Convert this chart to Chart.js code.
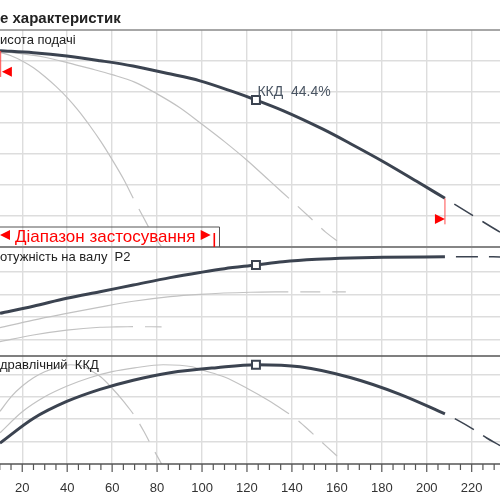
<!DOCTYPE html>
<html>
<head>
<meta charset="utf-8">
<script src="https://cdn.jsdelivr.net/npm/chart.js@4.4.1/dist/chart.umd.min.js"></script>
<style>
  html, body { margin: 0; padding: 0; background: #fff; }
  #chart { display: block; }
</style>
</head>
<body>
<canvas id="chart" width="500" height="500"></canvas>
<script>
// ========================
// DATA
// ========================
const xGrid = [20, 40, 60, 80, 100, 120, 140, 160, 180, 200, 220];
const hGrid = [5, 10, 15, 20, 25, 30];
const pGrid = [1, 2, 3, 4];
const eGrid = [10, 20, 30, 40];

// head, top panel
const headQ = [10.1, 24.9, 39.8, 54.6, 69.3, 84.3, 99.1, 113.8, 124.0, 136.0, 153.8, 165.9, 180.5, 195.5, 208.1];
const head = [31.66, 31.34, 30.81, 30.05, 29.19, 28.02, 26.8, 25.05, 23.71, 22.0, 19.0, 16.7, 13.8, 10.6, 7.85];
const headDashQ = [208.1, 221.8, 232.6, 246];
const headDash = [7.85, 4.79, 2.42, 0];
const head2Q = [10.1, 20, 30, 40, 50, 60, 70, 80, 90, 100, 110, 120, 130, 138.7];
const head2 = [31.55, 31.15, 30.6, 29.75, 28.8, 27.8, 26.6, 24.7, 22.5, 19.8, 17.0, 14.0, 10.7, 7.85];
const head2DashQ = [138.7, 147.9, 155, 164];
const head2Dash = [7.85, 4.8, 2.4, 0];
const head1Q = [10.1, 15, 20, 25, 30, 35, 40, 45, 50, 55, 60, 65, 69.4];
const head1 = [31.4, 30.85, 30.0, 28.9, 27.5, 25.9, 24.1, 22.0, 19.6, 17.0, 14.1, 11.0, 7.85];
const head1DashQ = [69.4, 73.9, 77.5, 82];
const head1Dash = [7.85, 4.8, 2.4, 0];

// shaft power P2, middle panel
const powQ = [10.1, 24.9, 39.8, 54.6, 69.4, 85.8, 99.1, 110, 124.0, 136.0, 151.0, 165.9, 180.7, 208.1];
const pow = [2.156, 2.47, 2.822, 3.116, 3.413, 3.74, 3.97, 4.14, 4.302, 4.449, 4.556, 4.613, 4.644, 4.671];
const powDashQ = [208.1, 220, 232.6, 246];
const powDash = [4.671, 4.668, 4.662, 4.655];
const pow2Q = [10.1, 24.9, 39.8, 54.6, 69.4, 85.8, 99.1, 121.4, 138.4];
const pow2 = [1.52, 1.855, 2.15, 2.43, 2.69, 2.9, 3.0, 3.09, 3.11];
const pow2DashQ = [138.4, 150, 164];
const pow2Dash = [3.11, 3.108, 3.105];
const pow1Q = [10.1, 24.9, 39.8, 54.6, 62, 69.3];
const pow1 = [0.893, 1.19, 1.41, 1.535, 1.55, 1.56];
const pow1DashQ = [69.3, 75, 82];
const pow1Dash = [1.56, 1.558, 1.556];

// hydraulic efficiency, bottom panel
const effQ = [10.1, 24.9, 39.8, 54.6, 69.4, 85.8, 106.5, 124.0, 143.6, 165.9, 188.1, 208.1];
const eff = [9.3, 20.3, 27.9, 33.3, 37.4, 40.7, 43.0, 44.3, 43.4, 38.6, 31.1, 22.4];
const effDashQ = [208.1, 213.3, 222.2, 226.7, 232.6, 246];
const effDash = [22.4, 19.8, 14.6, 11.6, 8.2, 0];
const eff2Q = [10.1, 20, 30, 40, 50, 60, 70, 82.7, 95.7, 100, 110, 120, 130, 138.7];
const eff2 = [13.9, 23.3, 30.0, 34.8, 38.5, 41.2, 42.9, 44.3, 43.4, 42.0, 38.8, 33.8, 28.1, 22.4];
const eff2DashQ = [138.7, 142.2, 148.1, 155, 164];
const eff2Dash = [22.4, 19.8, 14.6, 8.2, 0];
const eff1Q = [10.1, 15, 20, 25, 30, 35, 41.3, 47.9, 50, 55, 60, 65, 69.4];
const eff1 = [23.5, 30.0, 34.8, 38.5, 41.2, 42.9, 44.3, 43.4, 42.0, 38.8, 33.8, 28.1, 22.4];
const eff1DashQ = [69.4, 71.1, 74.1, 77.5, 82];
const eff1Dash = [22.4, 19.8, 14.6, 8.2, 0];

const dutyQ = 124.0;
const dutyLabel = "ККД  44.4%";
const rangeQ = [10.4, 208.1];
const rangeH = [31.62, 7.85];

// ========================
// STYLE
// ========================
const MAIN = "#3b4350";
const GREY = "#c2c2c2";
const GRID = "#dddddd";
const FONT = '"Liberation Sans", Arial, sans-serif';

const pts = (qs, vs) => qs.map((q, i) => ({ x: q, y: vs[i] }));

function mainLine(qs, vs, axis) {
  return {
    data: pts(qs, vs), yAxisID: axis,
    borderColor: MAIN, borderWidth: 3, cubicInterpolationMode: "monotone",
    pointStyle: "rect",
    pointRadius: (c) => (c.raw && c.raw.x === dutyQ ? 5.6 : 0),
    pointBackgroundColor: "#fff", pointBorderColor: MAIN, pointBorderWidth: 2,
  };
}
function mainDash(qs, vs, axis) {
  return {
    data: pts(qs, vs), yAxisID: axis, borderColor: MAIN, borderWidth: 1.5,
    borderDash: [22, 11], borderDashOffset: 22, pointRadius: 0, cubicInterpolationMode: "monotone",
  };
}
function greyLine(qs, vs, axis) {
  return { data: pts(qs, vs), yAxisID: axis, borderColor: GREY, borderWidth: 1.2, pointRadius: 0, cubicInterpolationMode: "monotone" };
}
function greyDash(qs, vs, axis) {
  return {
    data: pts(qs, vs), yAxisID: axis, borderColor: GREY, borderWidth: 1.2,
    borderDash: [20, 12], borderDashOffset: 20, pointRadius: 0, cubicInterpolationMode: "monotone",
  };
}

function yScale(min, max, grid, weight, stackWeight) {
  return {
    type: "linear", position: "left", stack: "panels", stackWeight, weight, min, max,
    afterBuildTicks: (s) => { s.ticks = grid.map((v) => ({ value: v })); },
    afterFit: (s) => { s.width = 0; },
    ticks: { display: false },
    grid: { color: GRID, lineWidth: 1.4, drawTicks: false },
    border: { display: false },
  };
}

// ========================
// OVERLAY: borders, ticks, texts, range marks
// ========================
function redTri(ctx, tipX, cy, dir) {
  ctx.beginPath();
  ctx.moveTo(tipX, cy);
  ctx.lineTo(tipX - dir * 10, cy - 5);
  ctx.lineTo(tipX - dir * 10, cy + 5);
  ctx.closePath();
  ctx.fill();
}

const overlay = {
  id: "overlay",
  afterDatasetsDraw(chart) {
    const { ctx, chartArea: a } = chart;
    const { x, yH, yP, yE } = chart.scales;
    ctx.save();

    const hline = (y, w, c) => {
      ctx.strokeStyle = c; ctx.lineWidth = w;
      ctx.beginPath(); ctx.moveTo(0, y); ctx.lineTo(a.right, y); ctx.stroke();
    };
    hline(yH.top, 1.3, "#8a8a8a");
    hline(yH.bottom, 2.2, "#858585");
    hline(yP.bottom, 1.3, "#555");
    hline(yE.bottom, 1.3, "#555");

    // minor and major tick marks on the flow axis
    ctx.strokeStyle = "#555"; ctx.lineWidth = 1.2;
    for (let v = 10; v <= x.max; v += 5) {
      const px = x.getPixelForValue(v);
      const len = v % 20 === 0 ? 8 : 6;
      ctx.beginPath(); ctx.moveTo(px, yE.bottom); ctx.lineTo(px, yE.bottom + len); ctx.stroke();
    }

    // titles
    ctx.fillStyle = "#222";
    ctx.textBaseline = "alphabetic";
    ctx.font = "bold 15px " + FONT;
    ctx.fillText("е характеристик", 0, 22.5);
    ctx.font = "13px " + FONT;
    ctx.fillText("исота подачі", 0, yH.top + 13.5);
    ctx.fillText("отужність на валу  P2", 0, yP.top + 13.7);
    ctx.fillText("дравлічний  ККД", 0, yE.top + 12.5);

    // duty point label
    ctx.fillStyle = "#4a5563";
    ctx.font = "14px " + FONT;
    ctx.fillText(dutyLabel, x.getPixelForValue(dutyQ) + 1.5, yH.getPixelForValue(head[headQ.indexOf(dutyQ)]) - 4);

    // operating range marks on the head curve
    ctx.fillStyle = "#ff0000";
    ctx.strokeStyle = "#ff4d4d"; ctx.lineWidth = 1;
    rangeQ.forEach((q, i) => {
      const px = x.getPixelForValue(q);
      const py = yH.getPixelForValue(rangeH[i]);
      ctx.beginPath(); ctx.moveTo(px, py); ctx.lineTo(px, py + 26); ctx.stroke();
      redTri(ctx, i === 0 ? px + 1.2 : px, py + 20.7, i === 0 ? -1 : 1);
    });

    // "application range" legend box
    const bTop = yH.bottom - 20.5;
    ctx.strokeStyle = "#555"; ctx.lineWidth = 1;
    ctx.beginPath();
    ctx.moveTo(-2, bTop + 0.5); ctx.lineTo(219.5, bTop + 0.5); ctx.lineTo(219.5, yH.bottom);
    ctx.stroke();
    ctx.fillStyle = "#ff0000";
    redTri(ctx, 0, bTop + 8.5, -1);
    redTri(ctx, 210.7, bTop + 8.5, 1);
    ctx.font = "17px " + FONT;
    ctx.fillText("Діапазон застосування", 15, bTop + 15);
    ctx.strokeStyle = "#ff0000"; ctx.lineWidth = 1.6;
    ctx.beginPath(); ctx.moveTo(214.3, bTop + 6.5); ctx.lineTo(214.3, yH.bottom); ctx.stroke();

    ctx.restore();
  },
};

// ========================
// CHART
// ========================
Chart.defaults.font.family = FONT;

new Chart(document.getElementById("chart"), {
  type: "line",
  data: {
    datasets: [
      mainLine(headQ, head, "yH"),
      mainLine(powQ, pow, "yP"),
      mainLine(effQ, eff, "yE"),
      mainDash(headDashQ, headDash, "yH"),
      mainDash(powDashQ, powDash, "yP"),
      mainDash(effDashQ, effDash, "yE"),
      greyLine(head2Q, head2, "yH"),
      greyDash(head2DashQ, head2Dash, "yH"),
      greyLine(head1Q, head1, "yH"),
      greyDash(head1DashQ, head1Dash, "yH"),
      greyLine(pow2Q, pow2, "yP"),
      greyDash(pow2DashQ, pow2Dash, "yP"),
      greyLine(pow1Q, pow1, "yP"),
      greyDash(pow1DashQ, pow1Dash, "yP"),
      greyLine(eff2Q, eff2, "yE"),
      greyDash(eff2DashQ, eff2Dash, "yE"),
      greyLine(eff1Q, eff1, "yE"),
      greyDash(eff1DashQ, eff1Dash, "yE"),
    ],
  },
  options: {
    responsive: false,
    animation: false,
    devicePixelRatio: 1,
    layout: { padding: { top: 30, left: 0, right: 0, bottom: 0 } },
    plugins: { legend: { display: false }, tooltip: { enabled: false } },
    scales: {
      x: {
        type: "linear", position: "bottom", min: 10.1, max: 232.6,
        afterBuildTicks: (s) => { s.ticks = xGrid.map((v) => ({ value: v })); },
        afterFit: (s) => { s.height = 36; s.paddingLeft = 0; s.paddingRight = 0; },
        ticks: { autoSkip: false, maxRotation: 0, padding: 17, color: "#333", font: { size: 13 } },
        grid: { color: GRID, lineWidth: 1.4, drawTicks: false },
        border: { display: false },
      },
      yH: yScale(0, 35, hGrid, 3, 217),
      yP: yScale(0.258, 5.102, pGrid, 2, 109),
      yE: yScale(0, 48.2, eGrid, 1, 108),
    },
  },
  plugins: [overlay],
});
</script>
</body>
</html>
